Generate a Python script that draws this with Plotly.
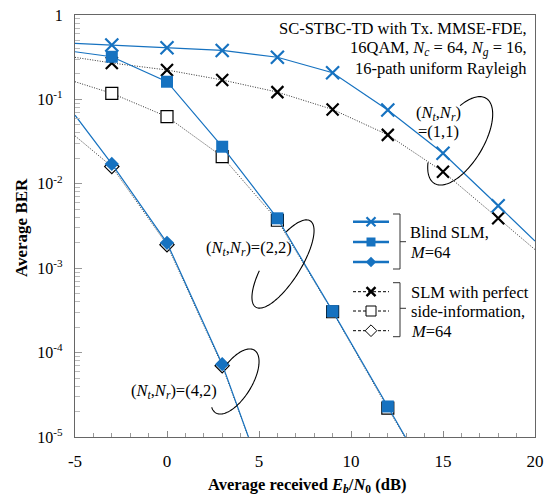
import numpy as np
import plotly.graph_objects as go

# ---------------- data ----------------
snr_11 = [-3, 0, 3, 6, 9, 12, 15, 18]
blind_11 = [0.44, 0.41, 0.38, 0.316, 0.207, 0.075, 0.023, 0.0055]
perfect_11 = [0.27, 0.223, 0.17, 0.122, 0.076, 0.038, 0.0139, 0.0039]

snr_22 = [-3, 0, 3, 6, 9, 12]
blind_22 = [0.32, 0.162, 0.0275, 0.0039, 3.1e-4, 2.3e-5]
perfect_22 = [0.118, 0.0624, 0.021, 0.0037, 3.05e-4, 2.2e-5]

snr_42 = [-3, 0, 3]
blind_42 = [0.0172, 0.002, 7.3e-5]
perfect_42 = [0.016, 0.0019, 7.0e-5]

# curve continuation beyond the simulated points (line only)
line_x_11 = [-5] + snr_11 + [20]
line_blind_11 = [0.46] + blind_11 + [0.0021]
line_perfect_11 = [0.315] + perfect_11 + [0.00166]
line_x_22 = [-5] + snr_22 + [14]
line_blind_22 = [0.367] + blind_22 + [4e-6]
line_perfect_22 = [0.162] + perfect_22 + [4e-6]
line_x_42 = [-5] + snr_42 + [5]
line_blind_42 = [0.065] + blind_42 + [4.5e-6]
line_perfect_42 = [0.037] + perfect_42 + [4.5e-6]

y_tickvals = [1, 1e-1, 1e-2, 1e-3, 1e-4, 1e-5]
y_ticktext = ["1", "10<sup>-1</sup>", "10<sup>-2</sup>", "10<sup>-3</sup>",
              "10<sup>-4</sup>", "10<sup>-5</sup>"]
x_tickvals = [-5, 0, 5, 10, 15, 20]
x_ticktext = ["-5", "0", "5", "10", "15", "20"]

BLUE = "#1672c0"
FONT = "Liberation Serif"
FS = 16.5

W, H = 551, 496
L, R, T, B = 75, 535, 15, 437  # plot area in pixels

fig = go.Figure()


def curve(lx, ly, mx, my, color, dash, width, symbol, size, fill, lcol, lw):
    fig.add_trace(go.Scatter(x=lx, y=ly, mode="lines",
                             line=dict(color=color, width=width, dash=dash),
                             showlegend=False, hoverinfo="skip"))
    fig.add_trace(go.Scatter(x=mx, y=my, mode="markers",
                             marker=dict(symbol=symbol, size=size, color=fill,
                                         line=dict(color=lcol, width=lw)),
                             showlegend=False, hoverinfo="skip"))


DOT = "1px,1.5px"
# perfect side-information (black, dotted) first
curve(line_x_11, line_perfect_11, snr_11, perfect_11, "#333", DOT, 1, "x-thin", 12, "black", "black", 2.2)
curve(line_x_22, line_perfect_22, snr_22, perfect_22, "#333", DOT, 1, "square", 12, "white", "black", 1.2)
curve(line_x_42, line_perfect_42, snr_42, perfect_42, "#333", DOT, 1, "diamond", 11, "white", "black", 1.2)
# blind SLM (blue)
curve(line_x_11, line_blind_11, snr_11, blind_11, BLUE, "solid", 1.2, "x-thin", 13, BLUE, BLUE, 2.2)
curve(line_x_22, line_blind_22, snr_22, blind_22, BLUE, "solid", 1.2, "square", 12, BLUE, BLUE, 0)
curve(line_x_42, line_blind_42, snr_42, blind_42, BLUE, "solid", 1.2, "diamond", 11, BLUE, BLUE, 0)

# ---------------- legend (drawn manually on pixel overlay axes) ----------------
leg_blue_y = [221.7, 242, 262]
leg_black_y = [291.7, 311, 330.7]
leg_syms_blue = [("x-thin", 9, BLUE, BLUE, 2.2), ("square", 9, BLUE, BLUE, 0), ("diamond", 8, BLUE, BLUE, 0)]
leg_syms_black = [("x-thin", 9, "black", "black", 2.4), ("square", 10, "white", "black", 1), ("diamond", 9, "white", "black", 1)]
for yy, (s, sz, fc, lc, lw) in zip(leg_blue_y, leg_syms_blue):
    fig.add_trace(go.Scatter(x=[353, 389], y=[yy, yy], mode="lines", line=dict(color=BLUE, width=2.5),
                             xaxis="x2", yaxis="y2", showlegend=False, hoverinfo="skip"))
    fig.add_trace(go.Scatter(x=[371], y=[yy], mode="markers",
                             marker=dict(symbol=s, size=sz, color=fc, line=dict(color=lc, width=lw)),
                             xaxis="x2", yaxis="y2", showlegend=False, hoverinfo="skip"))
for yy, (s, sz, fc, lc, lw) in zip(leg_black_y, leg_syms_black):
    fig.add_trace(go.Scatter(x=[353, 389], y=[yy, yy], mode="lines", line=dict(color="black", width=1, dash="3px,2px"),
                             xaxis="x2", yaxis="y2", showlegend=False, hoverinfo="skip"))
    fig.add_trace(go.Scatter(x=[371], y=[yy], mode="markers",
                             marker=dict(symbol=s, size=sz, color=fc, line=dict(color=lc, width=lw)),
                             xaxis="x2", yaxis="y2", showlegend=False, hoverinfo="skip"))

shapes = []


def bracket(y0, y1, ym):
    return dict(type="path", xref="x2", yref="y2",
                path=f"M 393,{y0} L 400,{y0} L 400,{y1} L 393,{y1} M 400,{ym} L 406,{ym}",
                line=dict(color="#333", width=1))


shapes.append(bracket(214, 269, 241.7))
shapes.append(bracket(282.7, 336.7, 308.3))


def arc(cx, cy, a, b, theta_deg, t0, t1):
    th = np.radians(theta_deg)
    t = np.radians(np.linspace(t0, t1, 120))
    u = a * np.cos(t)
    v = b * np.sin(t)
    # math frame (y up) -> pixel frame (y down)
    px = cx + u * np.cos(th) - v * np.sin(th)
    py = cy - (u * np.sin(th) + v * np.cos(th))
    d = "M " + " L ".join(f"{x:.2f},{y:.2f}" for x, y in zip(px, py))
    return dict(type="path", xref="x2", yref="y2", path=d, line=dict(color="black", width=1.1))


shapes.append(arc(460.2, 140.8, 49.8, 23, 58.7, 135, 53 + 360))
shapes.append(arc(283, 264, 51, 17.6, 57.7, 111, 55.5 + 360))
shapes.append(arc(235, 381.5, 36.8, 16.8, 58.3, 158, 72 + 360))

ann = []


def txt(x, y, s, anchor="left", size=FS):
    ann.append(dict(x=x, y=y, xref="x2", yref="y2", text=s, showarrow=False,
                    xanchor=anchor, yanchor="middle", font=dict(family=FONT, size=size, color="black")))


txt(408, 232, "Blind SLM,")
txt(408, 252, "<i>M</i>=64")
txt(409, 292, "SLM with perfect")
txt(409, 311.5, "side-information,")
txt(409, 331.5, "<i>M</i>=64")

txt(529, 28.3, "SC-STBC-TD with Tx. MMSE-FDE,", anchor="right")
txt(529, 48.5, "16QAM, <i>N<sub>c</sub></i> = 64, <i>N<sub>g</sub></i> = 16,", anchor="right")
txt(529, 68.3, "16-path uniform Rayleigh", anchor="right")

txt(438.5, 113.3, "(<i>N<sub>t</sub></i>,<i>N<sub>r</sub></i>)", anchor="center")
txt(438.5, 131, "=(1,1)", anchor="center")
txt(204, 248.3, "(<i>N<sub>t</sub></i>,<i>N<sub>r</sub></i>)=(2,2)")
txt(128.5, 390.7, "(<i>N<sub>t</sub></i>,<i>N<sub>r</sub></i>)=(4,2)")


def px2paper(x, y):
    return (x - L) / (R - L), (B - y) / (B - T)


xx, yy = px2paper(306.5, 485)
ann.append(dict(x=xx, y=yy, xref="paper", yref="paper", showarrow=False, xanchor="center", yanchor="middle",
                text="<b>Average received <i>E<sub>b</sub></i>/<i>N</i><sub>0</sub> (dB)</b>",
                font=dict(family=FONT, size=16.5, color="black")))
xx, yy = px2paper(21.5, 227.5)
ann.append(dict(x=xx, y=yy, xref="paper", yref="paper", showarrow=False, xanchor="center", yanchor="middle",
                text="<b>Average BER</b>", textangle=-90,
                font=dict(family=FONT, size=17, color="black")))

minor_y = [m * 10.0 ** k for k in range(-5, 0) for m in range(2, 10)]

fig.update_layout(
    width=W, height=H,
    autosize=False,
    margin=dict(l=L, r=W - R, t=T, b=H - B, pad=0, autoexpand=False),
    paper_bgcolor="white", plot_bgcolor="white",
    showlegend=False,
    font=dict(family=FONT, size=FS, color="black"),
    xaxis=dict(range=[-5, 20], tickvals=x_tickvals, ticktext=x_ticktext, ticks="inside", ticklen=6,
               tickcolor="#888",
               showline=True, linecolor="#666", linewidth=1.3, mirror=True, showgrid=False, zeroline=False,
               minor=dict(dtick=1, tick0=-5, ticks="inside", ticklen=4, tickcolor="#999", showgrid=False),
               ticklabelstandoff=8, tickfont=dict(family=FONT, size=17), automargin=False),
    yaxis=dict(type="log", range=[-5, 0], tickvals=y_tickvals, ticktext=y_ticktext, ticks="inside",
               ticklen=7, tickcolor="#999", showline=True, linecolor="#666", linewidth=1.3, mirror=True,
               showgrid=False, zeroline=False,
               minor=dict(tickvals=minor_y, ticks="inside", ticklen=5, tickcolor="#bbb", showgrid=False),
               ticklabelstandoff=8, tickfont=dict(family=FONT, size=16), automargin=False),
    xaxis2=dict(range=[L, R], overlaying="x", visible=False, fixedrange=True, automargin=False),
    yaxis2=dict(range=[B, T], overlaying="y", visible=False, fixedrange=True, automargin=False),
    shapes=shapes,
    annotations=ann,
)

fig.write_html("out.html", config={"displayModeBar": False},
               post_script="document.body.style.margin='0';document.body.style.overflow='hidden';")
